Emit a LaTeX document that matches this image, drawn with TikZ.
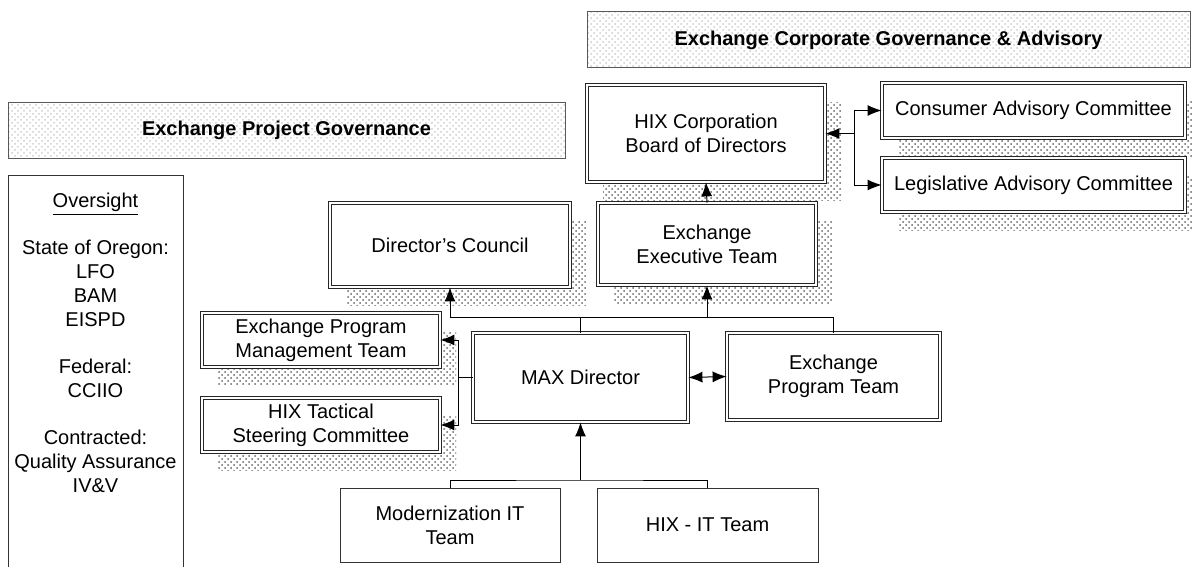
\documentclass[tikz,border=0pt]{standalone}
\usepackage{fontspec}
\setmainfont{Liberation Sans}
\usetikzlibrary{arrows.meta,patterns,shadows}

\tikzset{
  govbox/.style={draw=black!85, double, double distance=1.2pt, line width=0.4pt,
    fill=white, align=center, inner sep=0pt, font=\fontsize{10}{12}\selectfont},
  plainbox/.style={draw=black!80, line width=0.5pt, fill=white, align=center,
    inner sep=0pt, font=\fontsize{10}{12}\selectfont},
  shadowed/.style={general shadow={shadow xshift=8pt, shadow yshift=-9pt,
    pattern=crosshatch dots, pattern color=black!60}},
  banner/.style={draw=black!65, line width=0.5pt, pattern=crosshatch dots,
    pattern color=gray!40, inner sep=0pt, font=\bfseries\fontsize{10}{12}\selectfont},
  link/.style={line width=0.5pt},
}

\begin{document}
\begin{tikzpicture}[x=0.5pt, y=-0.5pt, >={Latex[length=7pt,width=5.5pt]}]

\useasboundingbox (0,0) rectangle (1193,567);

% headings
\node[banner, minimum width=301.5pt, minimum height=28pt] (corpgov) at (888.5,40)
{Exchange Corporate Governance \& Advisory};
\node[banner, minimum width=278.5pt, minimum height=27.5pt] (projgov) at (286.5,130.5)
{Exchange Project Governance};

% oversight panel
\draw[line width=0.5pt, draw=black!80] (8,567) -- (8,175) -- (183,175) -- (183,567);
\node[align=center, anchor=north, inner sep=0pt, font=\fontsize{10}{12}\selectfont]
(oversight) at (95.5,193)
{\underline{Oversight}\\[11.5pt]
State of Oregon:\\ LFO\\ BAM\\ EISPD\\[11.5pt]
Federal:\\ CCIIO\\[11.5pt]
Contracted:\\ Quality Assurance\\ IV\&V};

% corporate side
\node[govbox, shadowed, minimum width=119pt, minimum height=48.5pt] (hixcorp) at (706,133.5)
{HIX Corporation\\ Board of Directors};
\node[govbox, shadowed, minimum width=151.5pt, minimum height=27.5pt] (consumer) at (1033.5,110.5)
{Consumer Advisory Committee};
\node[govbox, shadowed, minimum width=151.5pt, minimum height=27pt] (legis) at (1033.5,185)
{Legislative Advisory Committee};

% project side
\node[govbox, shadowed, minimum width=120pt, minimum height=42pt] (council) at (450,245)
{Director’s Council};
\node[govbox, shadowed, minimum width=109pt, minimum height=41pt] (exec) at (707,244)
{Exchange\\ Executive Team};
\node[govbox, shadowed, minimum width=119pt, minimum height=27pt] (pmt) at (321,340)
{Exchange Program\\ Management Team};
\node[govbox, shadowed, minimum width=119pt, minimum height=27pt] (tactical) at (321,425)
{HIX Tactical\\ Steering Committee};
\node[govbox, minimum width=107.5pt, minimum height=44.5pt] (maxdir) at (580.5,377.5)
{MAX Director};
\node[govbox, minimum width=106.5pt, minimum height=43.5pt] (progteam) at (833.5,376.5)
{Exchange\\ Program Team};

% IT teams
\node[plainbox, minimum width=110pt, minimum height=37pt] (modit) at (450,525)
{Modernization IT\\ Team};
\node[plainbox, minimum width=110.5pt, minimum height=37pt] (hixit) at (707.5,525)
{HIX - IT Team};

% joints
\coordinate (advjoin) at (854,133.5);
\coordinate (topbus) at (580.5,317);
\coordinate (sidejoin) at (458,377.5);
\coordinate (itbus) at (580.5,480);

% connectors
\draw[link, ->] (exec.north) -- (hixcorp.south);
\draw[link, ->] (advjoin) -- (hixcorp.east);
\draw[link, ->] (advjoin) |- (consumer.west);
\draw[link, ->] (advjoin) |- (legis.west);

\draw[link, ->] (maxdir.north) -- (topbus) -| (council.south);
\draw[link, ->] (topbus) -| (exec.south);
\draw[link] (topbus) -| (progteam.north);

\draw[link] (maxdir.west) -- (sidejoin);
\draw[link, ->] (sidejoin) |- (pmt.east);
\draw[link, ->] (sidejoin) |- (tactical.east);

\draw[link, <->] (maxdir.east) -- (progteam.west);

\draw[link] (modit.north) |- (itbus) -| (hixit.north);
\draw[link, ->] (itbus) -- (maxdir.south);

\end{tikzpicture}
\end{document}
